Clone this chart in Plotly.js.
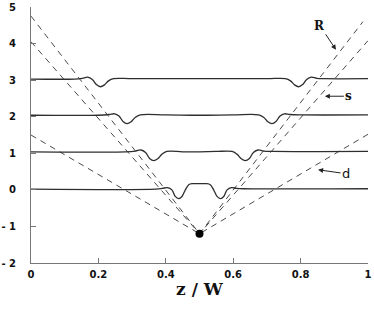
<!DOCTYPE html>
<html>
<head>
<meta charset="utf-8">
<script src="https://cdn.plot.ly/plotly-3.0.1.min.js"></script>
<style>html,body{margin:0;padding:0;background:#fff;}#chart{width:374px;height:309px;}</style>
</head>
<body>
<div id="chart"></div>
<script>
// Profiles (offset by level)
const x3 = [0, 0.13, 0.152, 0.168, 0.182, 0.194, 0.206, 0.218, 0.23, 0.245, 0.3, 0.5, 0.7, 0.755, 0.77, 0.782, 0.794, 0.806, 0.818, 0.832, 0.848, 0.87, 1];
const y3 = [3.03, 3.03, 3.05, 3.08, 3.02, 2.88, 2.82, 2.87, 2.98, 3.04, 3.04, 3.04, 3.04, 3.04, 2.98, 2.87, 2.82, 2.88, 3.02, 3.08, 3.05, 3.04, 3.04];
const x2 = [0, 0.2, 0.232, 0.248, 0.261, 0.273, 0.285, 0.297, 0.309, 0.324, 0.4, 0.5, 0.6, 0.676, 0.691, 0.703, 0.715, 0.727, 0.739, 0.752, 0.768, 0.8, 1];
const y2 = [2.04, 2.04, 2.06, 2.08, 2.02, 1.87, 1.81, 1.86, 1.98, 2.05, 2.05, 2.04, 2.05, 2.05, 1.98, 1.86, 1.81, 1.87, 2.02, 2.08, 2.06, 2.05, 2.05];
const x1 = [0, 0.28, 0.31, 0.326, 0.34, 0.352, 0.364, 0.376, 0.388, 0.403, 0.45, 0.5, 0.55, 0.597, 0.612, 0.624, 0.636, 0.648, 0.66, 0.674, 0.69, 0.72, 1];
const y1 = [1.04, 1.04, 1.06, 1.09, 1.02, 0.86, 0.8, 0.85, 0.97, 1.05, 1.04, 1.04, 1.05, 1.05, 0.97, 0.85, 0.8, 0.86, 1.02, 1.09, 1.06, 1.05, 1.05];
const x0 = [0, 0.37, 0.39, 0.405, 0.418, 0.428, 0.438, 0.448, 0.458, 0.468, 0.48, 0.5, 0.52, 0.532, 0.542, 0.552, 0.562, 0.572, 0.582, 0.595, 0.61, 0.63, 1];
const y0 = [0.02, 0.02, 0.04, 0.06, 0.0, -0.18, -0.24, -0.18, 0.0, 0.14, 0.17, 0.17, 0.17, 0.14, 0.0, -0.18, -0.24, -0.18, 0.0, 0.06, 0.04, 0.03, 0.03];

// Dashed lines converging at the source point
const xR = [0, 0.5, 0.985];
const yR = [4.75, -1.2, 4.6];
const xS = [0, 0.5, 1];
const yS = [4.05, -1.2, 4.08];
const xD = [0, 0.5, 1];
const yD = [1.5, -1.2, 1.52];
const srcX = [0.5];
const srcY = [-1.2];

const yTickVals = [-2, -1, 0, 1, 2, 3, 4, 5];
const yTickText = ["- 2", "- 1", "0", "1", "2", "3", "4", "5"];
const xTickVals = [0, 0.2, 0.4, 0.6, 0.8, 1];
const xTickText = ["0", "0.2", "0.4", "0.6", "0.8", "1"];

const lineCol = "#2e2e2e";
const dashStyle = {color: "#4a4a4a", width: 1, dash: "6px,5px"};
const traces = [];
[[xR, yR], [xS, yS], [xD, yD]].forEach(([xx, yy]) => {
  traces.push({x: xx, y: yy, mode: "lines", line: dashStyle, hoverinfo: "skip"});
});
[[x3, y3], [x2, y2], [x1, y1], [x0, y0]].forEach(([xx, yy]) => {
  traces.push({x: xx, y: yy, mode: "lines", line: {color: lineCol, width: 1.3, shape: "spline", smoothing: 1}, hoverinfo: "skip"});
});
traces.push({x: srcX, y: srcY, mode: "markers", marker: {color: "#000", size: 8}, hoverinfo: "skip"});

const bold = arr => arr.map(t => "<b>" + t + "</b>");
const tickFont = {family: "DejaVu Sans, Arial", size: 10, color: "#111"};
const layout = {
  width: 374, height: 309,
  margin: {l: 30.5, r: 6, t: 7, b: 46},
  paper_bgcolor: "#fff", plot_bgcolor: "#fff",
  showlegend: false,
  xaxis: {
    range: [0, 1], showgrid: false, zeroline: false, showline: true, linecolor: "#777", linewidth: 1,
    ticks: "inside", ticklen: 5, tickcolor: "#777", tickvals: xTickVals, ticktext: bold(xTickText),
    tickfont: tickFont, ticklabelstandoff: 2,
    title: {text: "<b>z / W</b>", font: {family: "DejaVu Serif, serif", size: 17, color: "#111"}, standoff: 4}
  },
  yaxis: {
    range: [-2, 5], showgrid: false, zeroline: false, showline: true, linecolor: "#777", linewidth: 1,
    ticks: "inside", ticklen: 5, tickcolor: "#777", tickvals: yTickVals, ticktext: bold(yTickText),
    tickfont: tickFont, ticklabelstandoff: 12
  },
  annotations: [
    {x: 0.905, y: 3.83, ax: -16, ay: -24, text: "<b>R</b>", showarrow: true, arrowhead: 2, arrowsize: 1, arrowwidth: 1, arrowcolor: "#222",
     font: {family: "DejaVu Serif, serif", size: 12, color: "#111"}},
    {x: 0.872, y: 2.56, ax: 24, ay: 0, text: "<b>s</b>", showarrow: true, arrowhead: 2, arrowsize: 1, arrowwidth: 1, arrowcolor: "#222",
     font: {family: "DejaVu Serif, serif", size: 12, color: "#111"}},
    {x: 0.852, y: 0.55, ax: 28, ay: 4, text: "d", showarrow: true, arrowhead: 2, arrowsize: 1, arrowwidth: 1, arrowcolor: "#222",
     font: {family: "DejaVu Sans, sans-serif", size: 13, color: "#111"}}
  ]
};
Plotly.newPlot("chart", traces, layout, {staticPlot: true, displayModeBar: false});
</script>
</body>
</html>
